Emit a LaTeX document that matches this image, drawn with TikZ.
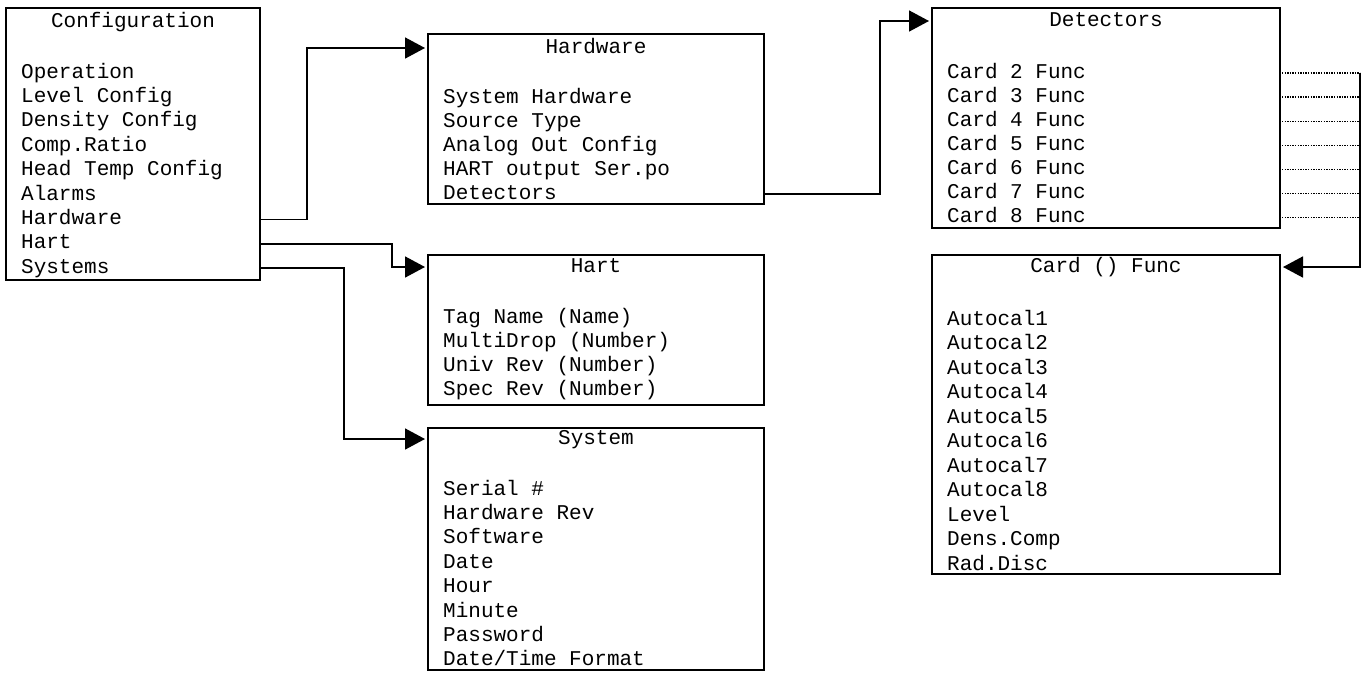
\documentclass[tikz,border=0pt]{standalone}
\usepackage{fontspec}
\setmainfont{Liberation Mono}
\usetikzlibrary{arrows.meta,calc}
\tikzset{
  box/.style={draw, line width=1.8pt, anchor=north west, inner sep=0pt, outer sep=0pt},
  ttl/.style={inner sep=0pt, text height=14pt, text depth=4pt, font=\fontsize{21}{24}\selectfont},
  itm/.style={anchor=west, inner sep=0pt, text height=14pt, text depth=4pt, font=\fontsize{21}{24}\selectfont},
  conn/.style={line width=1.6pt},
  arr/.style={conn, -{Triangle[length=20pt,width=21pt]}, shorten >=3pt},
  dots/.style={line width=1.3pt, dash pattern=on 1.3pt off 1.3pt}
}
\begin{document}
\begin{tikzpicture}[x=1pt,y=-1pt]
\useasboundingbox (0,0) rectangle (1366,673);
% boxes
\node[box, minimum width=254pt, minimum height=272pt] (cfgbox) at (6,8) {};
\node[box, minimum width=336pt, minimum height=170pt] (hwbox) at (428,34) {};
\node[box, minimum width=336pt, minimum height=150pt] (hartbox) at (428,255) {};
\node[box, minimum width=336pt, minimum height=242pt] (sysbox) at (428,428) {};
\node[box, minimum width=348pt, minimum height=220pt] (detbox) at (932,8) {};
\node[box, minimum width=348pt, minimum height=319pt] (cardbox) at (932,255) {};
% titles
\node[ttl] (cfgtitle) at (cfgbox.north |- 0,22) {Configuration};
\node[ttl] (hwtitle) at (hwbox.north |- 0,48) {Hardware};
\node[ttl] (harttitle) at (hartbox.north |- 0,267) {Hart};
\node[ttl] (systitle) at (sysbox.north |- 0,439) {System};
\node[ttl] (dettitle) at (detbox.north |- 0,21) {Detectors};
\node[ttl] (cardtitle) at (cardbox.north |- 0,267) {Card () Func};
% items
\foreach \t [count=\i] in {Operation,Level Config,Density Config,Comp.Ratio,Head Temp Config,Alarms,Hardware,Hart,Systems}
  \node[itm] (cfg\i) at (21,{73+(\i-1)*24.4}) {\t};
\foreach \t [count=\i] in {System Hardware,Source Type,Analog Out Config,HART output Ser.po,Detectors}
  \node[itm] (hw\i) at (443,{98+(\i-1)*24}) {\t};
\foreach \t [count=\i] in {Tag Name (Name),MultiDrop (Number),Univ Rev (Number),Spec Rev (Number)}
  \node[itm] (hart\i) at (443,{318+(\i-1)*24}) {\t};
\foreach \t [count=\i] in {Serial \#,Hardware Rev,Software,Date,Hour,Minute,Password,Date/Time Format}
  \node[itm] (sys\i) at (443,{490+(\i-1)*24.4}) {\t};
\foreach \t [count=\i] in {Card 2 Func,Card 3 Func,Card 4 Func,Card 5 Func,Card 6 Func,Card 7 Func,Card 8 Func}
  \node[itm] (det\i) at (947,{73+(\i-1)*24.1}) {\t};
\foreach \t [count=\i] in {Autocal1,Autocal2,Autocal3,Autocal4,Autocal5,Autocal6,Autocal7,Autocal8,Level,Dens.Comp,Rad.Disc}
  \node[itm] (card\i) at (947,{320+(\i-1)*24.5}) {\t};
% connectors
\draw[arr] (cfgbox.east |- cfg7) -- ++(47,0) |- (hwbox.west |- hwtitle);
\draw[arr] (cfgbox.east |- cfg8) -- ++(132,0) |- (hartbox.west |- harttitle);
\draw[arr] (cfgbox.east |- cfg9) -- ++(84,0) |- (sysbox.west |- systitle);
\draw[arr] (hwbox.east |- hw5) -- ++(116,0) |- (detbox.west |- dettitle);
\coordinate (rail) at (1360,0);
\foreach \i in {1,...,7}
  \draw[dots] ($(detbox.east |- det\i)+(2,0)$) -- (rail |- det\i);
\draw[arr] (rail |- det1) |- (cardbox.east |- cardtitle);
\end{tikzpicture}
\end{document}
